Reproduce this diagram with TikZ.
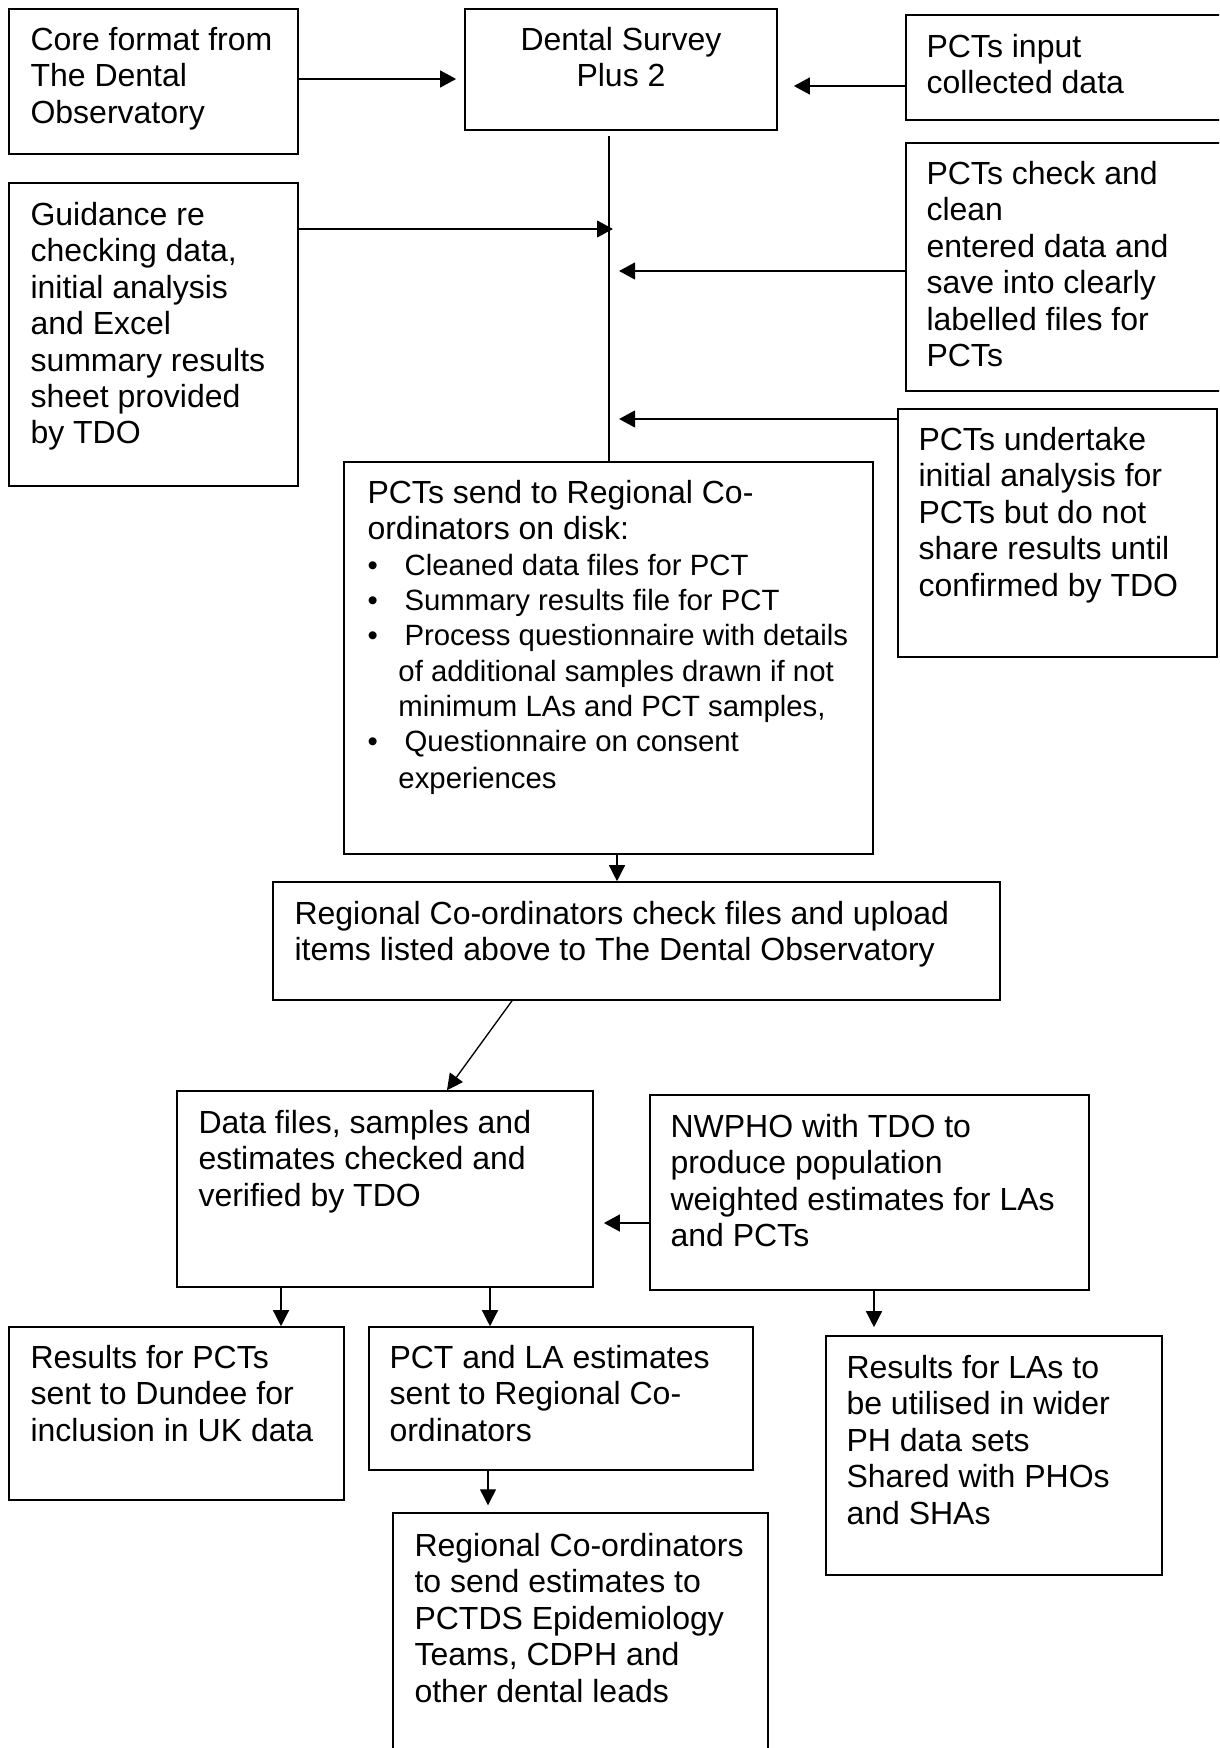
\documentclass[tikz,border=0pt]{standalone}
\usepackage{fontspec}
\setmainfont{Liberation Sans}
\usetikzlibrary{arrows.meta,fit,calc}
\newcommand\ts{\rule{0pt}{10pt}}
\begin{document}
\begin{tikzpicture}[x=0.375pt,y=-0.375pt,
  box/.style={draw,line width=0.6pt,inner sep=0pt},
  txt/.style={inner sep=0pt,align=left,anchor=north west,font=\fontsize{12}{13.65}\selectfont},
  harr/.style={line width=0.95pt,-{Triangle[length=6pt,width=6.2pt]}},
  varr/.style={line width=0.5pt,-{Triangle[length=6pt,width=6pt]}},
  spine/.style={line width=0.6pt}]
\clip (0,0) rectangle (1219,1748);
\fill[white] (0,0) rectangle (1219,1748);
% boxes
\node[box,fit={(9,9)(298,154)}] (core) {};
\node[box,fit={(465,9)(777,130)}] (ds) {};
\node[box,fit={(906,15)(1240,120)}] (input) {};
\node[box,fit={(9,183)(298,486)}] (guid) {};
\node[box,fit={(906,143)(1240,391)}] (check) {};
\node[box,fit={(898,409)(1217,657)}] (under) {};
\node[box,fit={(344,462)(873,854)}] (send) {};
\node[box,fit={(273,882)(1000,1000)}] (regional) {};
\node[box,fit={(177,1091)(593,1287)}] (data) {};
\node[box,fit={(650,1095)(1089,1290)}] (nwpho) {};
\node[box,fit={(9,1327)(344,1500)}] (respct) {};
\node[box,fit={(369,1327)(753,1470)}] (pctla) {};
\node[box,fit={(826,1336)(1162,1575)}] (reslas) {};
\node[box,fit={(393,1513)(768,1765)}] (regsend) {};
% texts
\node[txt] (core-t) at (30,23.3) {\ts Core format from\\The Dental\\Observatory};
\node[txt,align=center,anchor=north] (ds-t) at (621,23.3) {\ts Dental Survey\\Plus 2};
\node[txt] (input-t) at (926,30.3) {\ts PCTs input\\collected data};
\node[txt] (guid-t) at (30,198.3) {\ts Guidance re\\checking data,\\initial analysis\\and Excel\\summary results\\sheet provided\\by TDO};
\node[txt] (check-t) at (926,157.3) {\ts PCTs check and\\clean\\entered data and\\save into clearly\\labelled files for\\PCTs};
\node[txt] (under-t) at (918,423.3) {\ts PCTs undertake\\initial analysis for\\PCTs but do not\\share results until\\confirmed by TDO};
\node[txt,text width=200pt] (send-t) at (367,476.3) {\setlength\parindent{0pt}\setlength\parskip{0pt}\spaceskip=0pt\xspaceskip=0pt\ts PCTs send to Regional Co-\\ordinators on disk:\par
\fontsize{11}{13.25}\selectfont
\makebox[13.9pt][l]{\textbullet}Cleaned data files for PCT\\
\makebox[13.9pt][l]{\textbullet}Summary results file for PCT\\
\makebox[13.9pt][l]{\textbullet}Process questionnaire with details\\
\hspace*{11.6pt}of additional samples drawn if not\\
\hspace*{11.6pt}minimum LAs and PCT samples,\\
\makebox[13.9pt][l]{\textbullet}Questionnaire on consent\\
\hspace*{11.6pt}experiences};
\node[txt] (regional-t) at (294,897.3) {\ts Regional Co-ordinators check files and upload\\items listed above to The Dental Observatory};
\node[txt] (data-t) at (198,1106.3) {\ts Data files, samples and\\estimates checked and\\verified by TDO};
\node[txt] (nwpho-t) at (670,1110.3) {\ts NWPHO with TDO to\\produce population\\weighted estimates for LAs\\and PCTs};
\node[txt] (respct-t) at (30,1341.3) {\ts Results for PCTs\\sent to Dundee for\\inclusion in UK data};
\node[txt] (pctla-t) at (389,1341.3) {\ts PCT and LA estimates\\sent to Regional Co-\\ordinators};
\node[txt] (reslas-t) at (846,1351.3) {\ts Results for LAs to\\be utilised in wider\\PH data sets\\Shared with PHOs\\and SHAs};
\node[txt] (regsend-t) at (414,1529.3) {\ts Regional Co-ordinators\\to send estimates to\\PCTDS Epidemiology\\Teams, CDPH and\\other dental leads};
% connectors
\coordinate (sp1) at (609,136);
\draw[spine] (sp1) -- (sp1 |- send.north);
\draw[harr,shorten >=3pt] (core.east |- 0,79) -- (ds.west |- 0,79);
\draw[harr,shorten >=6pt] (input.west |- 0,86) -- (ds.east |- 0,86);
\draw[harr,shorten >=-1.5pt] (guid.east |- 0,229) -- (sp1 |- 0,229);
\draw[harr,shorten >=3.75pt] (check.west |- 0,271) -- (sp1 |- 0,271);
\draw[harr,shorten >=3.75pt] (under.west |- 0,419) -- (sp1 |- 0,419);
\draw[varr] (send.south -| 617,0) -- (regional.north -| 617,0);
\draw[varr] (regional.south -| 512,0) -- (data.north -| 447,0);
\draw[harr,shorten >=3.75pt] (nwpho.west |- 0,1223) -- (data.east |- 0,1223);
\draw[varr] (data.south -| 281,0) -- (respct.north -| 281,0);
\draw[varr] (data.south -| 490,0) -- (pctla.north -| 490,0);
\draw[varr,shorten >=3pt] (nwpho.south -| 874,0) -- (reslas.north -| 874,0);
\draw[varr,shorten >=2.6pt] (pctla.south -| 488,0) -- (regsend.north -| 488,0);
\end{tikzpicture}
\end{document}
